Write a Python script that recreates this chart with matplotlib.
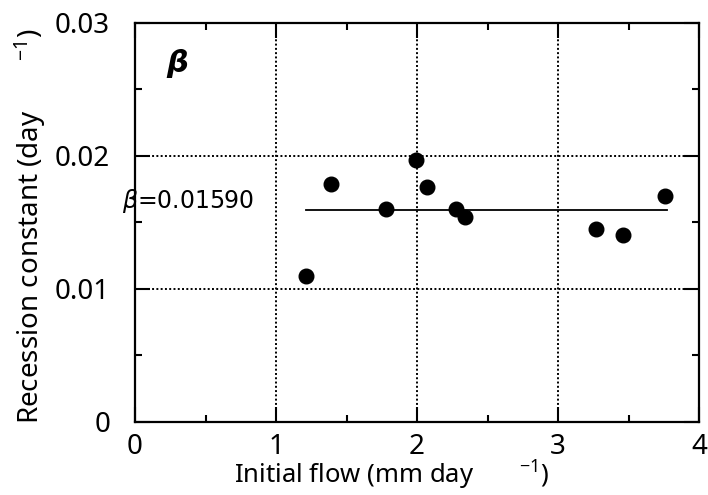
import matplotlib
matplotlib.use("Agg")
import matplotlib.pyplot as plt
from matplotlib.ticker import MultipleLocator

# values
initial_flow = [1.21, 1.39, 1.78, 1.99, 2.07, 2.28, 2.34, 3.27, 3.46, 3.76]
recession_k = [0.01093, 0.01788, 0.01596, 0.01968, 0.01763, 0.01596, 0.01543, 0.01451, 0.01406, 0.01696]
beta_mean = 0.01590
fit_x = [1.21, 3.77]
x_ticks = [0, 1, 2, 3, 4]
y_ticks = [0, 0.01, 0.02, 0.03]
y_tick_labels = ["0", "0.01", "0.02", "0.03"]


def main():
    plt.rcParams['font.family'] = ['Noto Sans', 'DejaVu Sans']
    plt.rcParams['mathtext.default'] = 'regular'

    fig = plt.figure(figsize=(7.08, 4.95), dpi=100)
    ax = fig.add_axes([0.1907, 0.148, 0.7966, 0.806])

    ax.plot(initial_flow, recession_k, 'o', color='black', markersize=10.5, zorder=3)
    ax.plot(fit_x, [beta_mean, beta_mean], '-', color='black', linewidth=1.3, zorder=2)

    ax.set_xlim(0, 4)
    ax.set_ylim(0, 0.03)
    ax.set_xticks(x_ticks)
    ax.set_yticks(y_ticks)
    ax.set_yticklabels(y_tick_labels)
    ax.xaxis.set_minor_locator(MultipleLocator(0.5))
    ax.yaxis.set_minor_locator(MultipleLocator(0.005))

    ax.grid(True, which='major', color='black', linestyle=(0, (1, 1.2)), linewidth=1.4)
    ax.tick_params(which='both', direction='in', top=True, right=True, width=1.5, labelsize=20)
    ax.tick_params(which='major', length=11)
    ax.tick_params(which='minor', length=5)
    ax.tick_params(axis='x', which='major', pad=8)
    ax.tick_params(axis='y', which='major', pad=18)
    for s in ax.spines.values():
        s.set_linewidth(1.6)

    ax.set_xlabel("Initial flow (mm day       $^{-1}$)", fontsize=18.5)
    ax.xaxis.set_label_coords(0.455, -0.092)
    ax.set_ylabel("Recession constant (day       $^{-1}$)", fontsize=20)
    ax.yaxis.set_label_coords(-0.155, 0.49)

    ax.text(0.30, 0.0269, "β", fontsize=22, ha='center', va='center',
            family='DejaVu Sans', style='italic', weight='bold')
    ax.text(-0.09, 0.0166, "$\\it{\\beta}$=0.01590", fontsize=17, ha='left', va='center',
            family='DejaVu Sans', clip_on=False)

    fig.savefig("out.png", dpi=100)


if __name__ == '__main__':
    main()
